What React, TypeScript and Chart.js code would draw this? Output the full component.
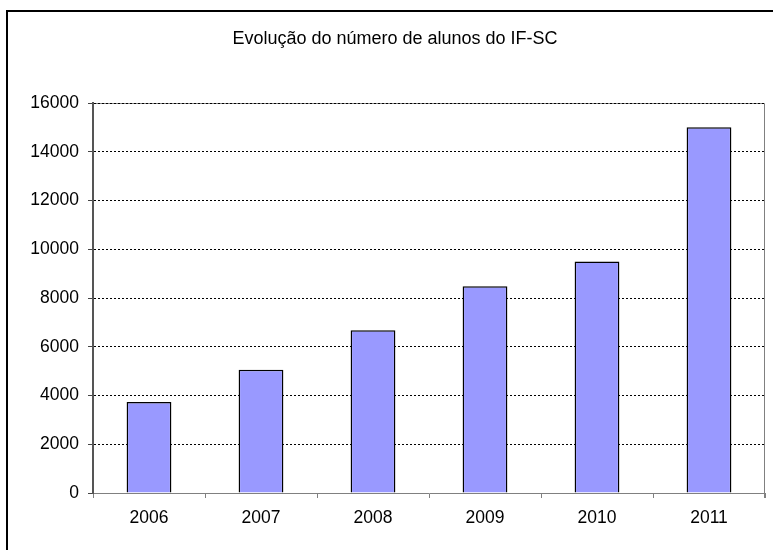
import React, { useEffect, useRef } from "react";
import { Chart, registerables } from "chart.js";

Chart.register(...registerables);

const titleText = "Evolução do número de alunos do IF-SC";
const categories = ["2006", "2007", "2008", "2009", "2010", "2011"];
const students = [3730, 5060, 6680, 8480, 9500, 15010];
const yMin = 0;
const yMax = 16000;
const yStep = 2000;

const FONT = "'Liberation Sans', Arial, sans-serif";

const framePlugin = {
  id: "framePlugin",
  beforeDraw(chart: any) {
    const { ctx, chartArea } = chart;
    ctx.save();
    // outer frame (cropped at right and bottom)
    ctx.strokeStyle = "#000";
    ctx.lineWidth = 2;
    ctx.beginPath();
    ctx.moveTo(7, 560);
    ctx.lineTo(7, 11);
    ctx.lineTo(790, 11);
    ctx.stroke();
    // plot area border (top and right)
    ctx.strokeStyle = "#808080";
    ctx.lineWidth = 1;
    ctx.beginPath();
    ctx.moveTo(Math.round(chartArea.left) + 0.5, Math.round(chartArea.top) + 0.5);
    ctx.lineTo(Math.round(chartArea.right) - 0.5, Math.round(chartArea.top) + 0.5);
    ctx.lineTo(Math.round(chartArea.right) - 0.5, Math.round(chartArea.bottom) + 5);
    ctx.stroke();
    ctx.restore();
  },
};

export default function App() {
  const ref = useRef<HTMLCanvasElement | null>(null);

  useEffect(() => {
    if (!ref.current) return;
    const chart = new Chart(ref.current, {
      type: "bar",
      data: {
        labels: categories,
        datasets: [
          {
            data: students,
            backgroundColor: "#9999FF",
            borderColor: "#000000",
            borderWidth: 1.5,
            barPercentage: 0.4,
            categoryPercentage: 1,
          },
        ],
      },
      options: {
        responsive: false,
        animation: false,
        layout: { padding: { left: 25, right: 8, top: 0, bottom: 0 } },
        plugins: {
          legend: { display: false },
          tooltip: { enabled: false },
          title: {
            display: true,
            text: titleText,
            color: "#000",
            font: { family: FONT, size: 18, weight: "normal" },
            padding: { top: 28.2, bottom: 53.2 },
          },
        },
        scales: {
          x: {
            grid: {
              display: true,
              drawOnChartArea: false,
              drawTicks: true,
              tickLength: 5,
              color: "#808080",
              tickColor: "#808080",
              offset: true,
            },
            border: { display: true, color: "#808080", width: 1 },
            ticks: {
              color: "#000",
              font: { family: FONT, size: 17.5 },
              padding: 9.5,
              maxRotation: 0,
            },
            afterFit(scale: any) {
              scale.height = 57;
            },
          },
          y: {
            min: yMin,
            max: yMax,
            grid: {
              display: true,
              drawOnChartArea: true,
              drawTicks: true,
              tickLength: 5,
              color: (c: any) => (c.tick && c.tick.value === 0 ? "rgba(0,0,0,0)" : "#000"),
              tickColor: "#444",
              lineWidth: 1,
            },
            border: { display: true, color: "#555", width: 2, dash: [2, 2] },
            ticks: {
              stepSize: yStep,
              color: "#000",
              font: { family: FONT, size: 17.5 },
              padding: 9,
              callback: (v: any) => String(v),
            },
            afterFit(scale: any) {
              scale.width = 68;
            },
          },
        },
      },
      plugins: [framePlugin],
    } as any);
    return () => chart.destroy();
  }, []);

  return (
    <div style={{ position: "absolute", left: 0, top: 0, width: 773, height: 550 }}>
      <canvas ref={ref} width={773} height={550} style={{ display: "block" }} />
    </div>
  );
}
